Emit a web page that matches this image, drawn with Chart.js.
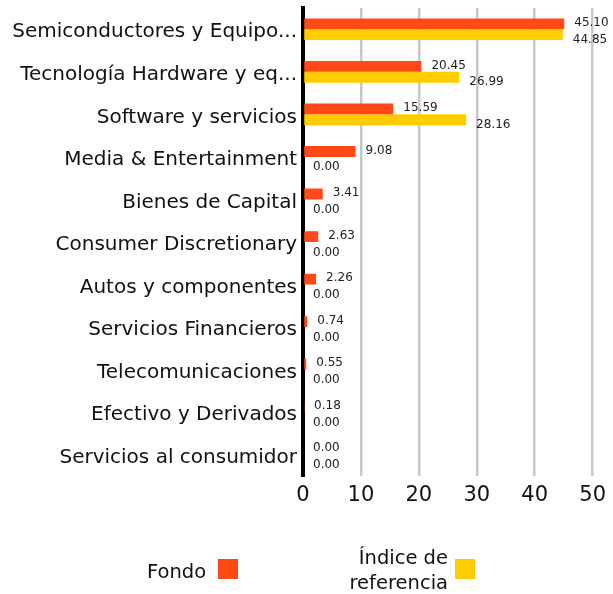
<!DOCTYPE html>
<html>
<head>
<meta charset="utf-8">
<script src="https://cdn.jsdelivr.net/npm/chart.js@4"></script>
<style>
  html, body { margin: 0; padding: 0; background: #fff; }
  #wrap { position: relative; width: 613px; height: 594px; }
  canvas { position: absolute; left: 0; top: 0; }
  .leg { position: absolute; font-family: "DejaVu Sans", sans-serif; font-size: 19.5px; color: #111; line-height: 25px; }
  .sq { position: absolute; width: 20px; height: 20px; }
</style>
</head>
<body>
<div id="wrap">
  <canvas id="c" width="613" height="594"></canvas>
  <div class="leg" style="left:147px; top:559px;">Fondo</div>
  <div class="sq" style="left:218px; top:559px; background:#ff4a17;"></div>
  <div class="leg" style="left:280px; width:168px; top:545px; text-align:right;">Índice de<br>referencia</div>
  <div class="sq" style="left:455px; top:559px; background:#ffcc00;"></div>
</div>
<script>
const categories = [
  "Semiconductores y Equipo...",
  "Tecnología Hardware y eq...",
  "Software y servicios",
  "Media & Entertainment",
  "Bienes de Capital",
  "Consumer Discretionary",
  "Autos y componentes",
  "Servicios Financieros",
  "Telecomunicaciones",
  "Efectivo y Derivados",
  "Servicios al consumidor"
];
const fondo = [45.10, 20.45, 15.59, 9.08, 3.41, 2.63, 2.26, 0.74, 0.55, 0.18, 0.00];
const indice = [44.85, 26.99, 28.16, 0.00, 0.00, 0.00, 0.00, 0.00, 0.00, 0.00, 0.00];
const xTicks = [0, 10, 20, 30, 40, 50];

const valueLabels = {
  id: 'valueLabels',
  afterDatasetsDraw(chart) {
    const ctx = chart.ctx;
    ctx.save();
    ctx.font = '12px "DejaVu Sans", sans-serif';
    ctx.fillStyle = '#222';
    ctx.textAlign = 'left';
    ctx.textBaseline = 'middle';
    chart.data.datasets.forEach((ds, di) => {
      const meta = chart.getDatasetMeta(di);
      meta.data.forEach((el, i) => {
        const off = di === 0 ? -1 : 5;
        ctx.fillText(ds.data[i].toFixed(2), el.x + 10, el.y + off);
      });
    });
    ctx.restore();
  }
};

new Chart(document.getElementById('c'), {
  type: 'bar',
  data: {
    labels: categories,
    datasets: [
      { label: 'Fondo', data: fondo, backgroundColor: '#ff4a17', categoryPercentage: 0.51, barPercentage: 1.0 },
      { label: 'Índice de referencia', data: indice, backgroundColor: '#ffcc00', categoryPercentage: 0.51, barPercentage: 1.0 }
    ]
  },
  options: {
    indexAxis: 'y',
    responsive: false,
    animation: false,
    layout: { padding: { top: 8, right: 19, bottom: 78, left: 0 } },
    plugins: { legend: { display: false }, tooltip: { enabled: false } },
    scales: {
      x: {
        min: 0, max: 50,
        afterBuildTicks(scale) { scale.ticks = xTicks.map(v => ({ value: v })); },
        afterFit(scale) { scale.height = 40; },
        grid: { color: '#c8c8c8', lineWidth: 2.5, drawTicks: false },
        border: { display: false },
        ticks: { font: { family: 'DejaVu Sans', size: 21 }, color: '#111', padding: 7 }
      },
      y: {
        afterFit(scale) { scale.width = 303; scale.paddingTop = 0; scale.paddingBottom = 0; },
        grid: { display: false, drawTicks: false },
        border: { display: true, color: '#000', width: 4 },
        ticks: { font: { family: 'DejaVu Sans', size: 20 }, color: '#111', padding: 6, labelOffset: 3 }
      }
    }
  },
  plugins: [valueLabels]
});
</script>
</body>
</html>
